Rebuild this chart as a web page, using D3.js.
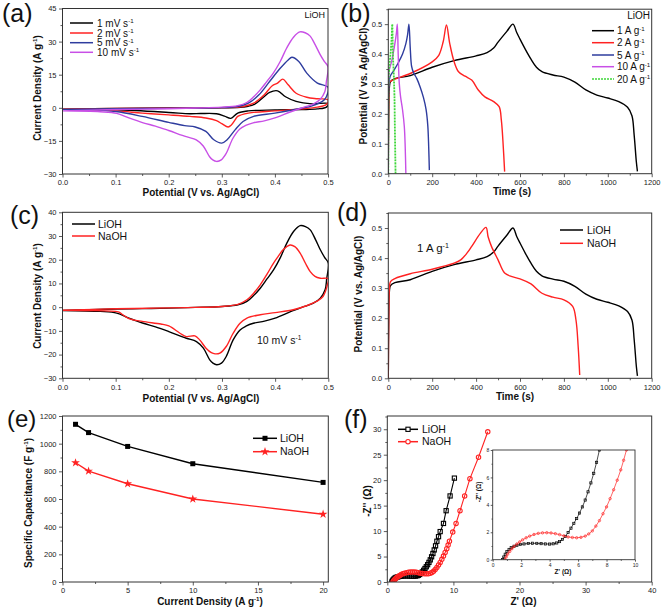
<!DOCTYPE html>
<html><head><meta charset="utf-8">
<script src="https://cdn.jsdelivr.net/npm/d3@7"></script>
<style>
body{margin:0;background:#fff;}
svg{display:block;font-family:"Liberation Sans",Arial,Helvetica,sans-serif;}
</style></head><body>
<svg id="chart" width="664" height="612"></svg>
<script>
// ================= DATA =================
// (a) CV of LiOH at several scan rates: [potential V, current A/g]
const cv1 = [[0,-0.6],[0.1,-0.3],[0.2,-0.1],[0.3,0],[0.34,0.3],[0.36,1.4],[0.38,5.1],[0.39,7],[0.405,7.7],[0.42,5],[0.44,2.9],[0.47,1.8],[0.5,1.9],[0.497,0.3],[0.48,-0.5],[0.45,-0.8],[0.4,-1.0],[0.35,-1.4],[0.33,-2.4],[0.317,-4.8],[0.305,-3.8],[0.29,-2.7],[0.26,-2.6],[0.24,-2.7],[0.2,-2.1],[0.1,-0.9],[0,-0.6]];
const cv2 = [[0,-0.6],[0.1,-0.3],[0.2,-0.1],[0.3,0.1],[0.34,0.6],[0.36,2.1],[0.38,5.9],[0.395,10],[0.405,11.2],[0.415,13],[0.425,10.4],[0.44,6.6],[0.46,4.8],[0.48,4.1],[0.5,3.6],[0.497,1.5],[0.48,0.3],[0.45,-0.5],[0.4,-1.4],[0.35,-2.4],[0.33,-3.9],[0.325,-5.5],[0.318,-7.8],[0.312,-8.7],[0.3,-7.2],[0.29,-5.8],[0.27,-4.6],[0.24,-3.9],[0.2,-3.2],[0.15,-2.4],[0.1,-1.4],[0,-0.6]];
const cv5 = [[0,-0.7],[0.1,-0.4],[0.2,-0.2],[0.3,0.1],[0.33,0.6],[0.35,2.1],[0.37,5.9],[0.39,11.9],[0.41,17.9],[0.425,21.7],[0.432,22.9],[0.445,21],[0.46,15.7],[0.48,11.2],[0.5,9.3],[0.497,5],[0.49,3.0],[0.47,0.9],[0.45,-0.2],[0.4,-2.4],[0.36,-3.9],[0.34,-6.2],[0.325,-10],[0.31,-14.5],[0.3,-16],[0.285,-14.5],[0.27,-10.7],[0.25,-8.7],[0.23,-8.1],[0.2,-6.6],[0.15,-3.9],[0.1,-1.7],[0.05,-0.9],[0,-0.7]];
const cvLiOH10 = [[0,-1.4],[0.05,-1.1],[0.1,-0.8],[0.15,-0.6],[0.2,-0.4],[0.25,-0.1],[0.3,0.3],[0.33,1.0],[0.347,2.4],[0.36,5],[0.372,8],[0.385,12],[0.397,15.7],[0.41,21],[0.422,27],[0.435,32],[0.447,34.4],[0.457,34],[0.466,32.6],[0.476,28.5],[0.485,24.2],[0.493,21],[0.5,18.6],[0.497,12],[0.494,7.3],[0.485,3.8],[0.472,1.7],[0.455,0.3],[0.43,-1.8],[0.4,-4.6],[0.38,-5.9],[0.359,-6.8],[0.345,-8],[0.334,-9.6],[0.321,-13.8],[0.308,-20.8],[0.299,-23.6],[0.29,-24.3],[0.283,-23.6],[0.277,-22.2],[0.265,-17.3],[0.252,-14.5],[0.233,-13.1],[0.2,-10.3],[0.175,-8.3],[0.152,-6.8],[0.125,-4.6],[0.102,-2.5],[0.071,-1.8],[0,-1.4]];
// (c) NaOH at 10 mV/s
const cvNaOH10 = [[0,-1.3],[0.1,-0.7],[0.2,-0.3],[0.25,-0.1],[0.3,0.3],[0.33,1.2],[0.347,3.1],[0.36,6],[0.372,9.4],[0.385,14],[0.397,18.6],[0.407,21.8],[0.415,24.2],[0.428,26.2],[0.437,25.5],[0.447,22.8],[0.457,18.5],[0.466,15],[0.475,13],[0.485,12.2],[0.5,12],[0.499,10],[0.49,4.5],[0.478,2.4],[0.459,0.6],[0.434,-1.1],[0.4,-2.3],[0.372,-3.2],[0.347,-4.6],[0.334,-6.8],[0.321,-11],[0.308,-16.6],[0.296,-19.4],[0.287,-19.7],[0.28,-19.2],[0.27,-17.3],[0.258,-13.8],[0.249,-12.1],[0.233,-12.4],[0.221,-11],[0.2,-7.9],[0.185,-7.1],[0.15,-6.0],[0.125,-4.8],[0.112,-3],[0.105,-2.0],[0.05,-1.4],[0,-1.3]];

// (b)/(d) galvanostatic charge-discharge: [time s, potential V]
const gcdLiOH1 = [[0,0],[2,0.2],[5,0.29],[10,0.308],[30,0.318],[100,0.328],[200,0.356],[300,0.378],[400,0.394],[450,0.405],[480,0.42],[500,0.44],[540,0.476],[568,0.5],[585,0.472],[600,0.45],[625,0.415],[650,0.383],[675,0.356],[700,0.341],[750,0.33],[800,0.323],[850,0.306],[900,0.28],[950,0.263],[1000,0.253],[1050,0.241],[1090,0.222],[1110,0.194],[1120,0.13],[1130,0.04],[1135,0.008]];
const gcd2 = [[0,0],[2,0.25],[5,0.305],[20,0.313],[100,0.335],[200,0.374],[230,0.396],[250,0.441],[265,0.497],[280,0.435],[300,0.374],[320,0.341],[350,0.326],[380,0.313],[410,0.28],[440,0.257],[480,0.241],[505,0.224],[515,0.179],[522,0.112],[530,0.007]];
const gcd5 = [[0,0],[2,0.29],[8,0.325],[25,0.345],[45,0.37],[65,0.4],[80,0.435],[88,0.465],[94,0.5],[100,0.42],[106,0.36],[115,0.338],[130,0.318],[145,0.29],[160,0.255],[172,0.215],[180,0.16],[184,0.09],[187,0.012]];
const gcd10 = [[0,0],[1,0.3],[4,0.346],[15,0.375],[30,0.435],[37,0.47],[41,0.5],[45,0.402],[50,0.302],[56,0.257],[65,0.213],[73,0.157],[77,0.09],[80,0]];
const gcd20 = [[0,0],[1,0.3],[4,0.35],[10,0.4],[15,0.45],[18,0.5],[21,0.4],[25,0.33],[28,0.26],[30,0.15],[32,0.05],[33,0]];
const gcdNaOH1 = [[0,0],[2,0.2],[5,0.3],[10,0.322],[30,0.332],[100,0.348],[200,0.363],[300,0.383],[330,0.394],[360,0.418],[380,0.439],[420,0.483],[445,0.502],[455,0.47],[470,0.439],[500,0.394],[530,0.35],[560,0.339],[600,0.331],[650,0.314],[700,0.283],[750,0.27],[800,0.261],[840,0.239],[855,0.194],[865,0.106],[872,0.011]];

// (e) rate capability
const rateCurrent = [1, 2, 5, 10, 20];
const capLiOH = [1140, 1080, 980, 855, 720];
const capNaOH = [862, 802, 710, 600, 490];

// (f) Nyquist: [Z' ohm, -Z'' ohm]
const eisLiOH = [[0.7,0],[0.78,0.2],[0.88,0.4],[1.0,0.58],[1.15,0.75],[1.3,0.88],[1.5,0.98],[1.7,1.05],[1.95,1.11],[2.2,1.15],[2.5,1.18],[2.8,1.2],[3.1,1.19],[3.4,1.17],[3.7,1.15],[4.0,1.14],[4.25,1.16],[4.5,1.22],[4.7,1.32],[4.9,1.48],[5.1,1.7],[5.3,1.98],[5.5,2.3],[5.7,2.65],[5.9,3.0],[6.1,3.4],[6.3,3.85],[6.5,4.35],[6.7,4.95],[6.9,5.6],[7.1,6.3],[7.3,7.1],[7.5,8.0],[7.75,8.9],[8.0,9.9],[8.5,11.5],[8.9,14.0],[9.5,16.9],[10.15,20.4]];
const eisNaOH = [[0.85,0],[0.95,0.2],[1.05,0.4],[1.2,0.6],[1.35,0.8],[1.5,0.97],[1.7,1.15],[1.9,1.3],[2.1,1.45],[2.35,1.6],[2.6,1.72],[2.9,1.84],[3.2,1.92],[3.5,1.96],[3.8,1.97],[4.1,1.95],[4.4,1.9],[4.7,1.83],[5.0,1.74],[5.3,1.66],[5.6,1.62],[5.9,1.6],[6.2,1.63],[6.5,1.72],[6.75,1.88],[7.0,2.1],[7.25,2.45],[7.5,2.85],[7.75,3.35],[8.0,3.85],[8.25,4.45],[8.5,5.1],[8.75,5.8],[9.0,6.55],[9.2,7.25],[9.4,8.0],[9.9,9.8],[10.4,11.5],[11.0,14.0],[11.7,16.9],[12.5,20.3],[13.8,24.5],[15.2,29.5]];

// tick values
const ticksPot = [0, 0.1, 0.2, 0.3, 0.4, 0.5];
const ticksCurA = [-30, -15, 0, 15, 30, 45];
const ticksCurC = [-30, -20, -10, 0, 10, 20, 30, 40];
const ticksTime = [0, 200, 400, 600, 800, 1000, 1200];
const ticksV = [0, 0.1, 0.2, 0.3, 0.4, 0.5];
const ticksRateX = [0, 5, 10, 15, 20];
const ticksCap = [0, 200, 400, 600, 800, 1000, 1200];
const ticksZx = [0, 10, 20, 30, 40];
const ticksZy = [0, 5, 10, 15, 20, 25, 30];
const ticksInsetX = [0, 2, 4, 6, 8, 10];
const ticksInsetY = [0, 2, 4, 6, 8];

// colours
const C = {k:"#000000", r:"#ff2222", b:"#2e3c9e", m:"#c84fe6", g:"#3fd63a"};

// ================= DRAWING =================
const svg = d3.select("#chart");
const defs = svg.append("defs");
let clipId = 0;

function panel(c){
  const x = d3.scaleLinear().domain(c.xd).range([c.L, c.R]);
  const y = d3.scaleLinear().domain(c.yd).range([c.B, c.T]);
  const g = svg.append("g");
  const fs = c.fs || 7.5;
  const ax = (gen, tr, vals, size, fmt) => {
    const a = g.append("g").attr("transform", tr)
      .call(gen.tickValues(vals).tickSize(size).tickPadding(c.pad || 2.5).tickFormat(fmt));
    a.select(".domain").remove();
    a.attr("font-family", null).attr("font-size", fs);
    a.selectAll("line").attr("stroke", "#333").attr("stroke-width", 0.8);
    a.selectAll("text").attr("fill", "#222");
    return a;
  };
  const maj = c.maj || 3.5, mn = c.mn || 2;
  ax(d3.axisBottom(x), `translate(0,${c.B})`, c.xMinor, mn, () => "");
  ax(d3.axisBottom(x), `translate(0,${c.B})`, c.xTicks, maj, c.xFmt);
  ax(d3.axisLeft(y), `translate(${c.L},0)`, c.yMinor, mn, () => "");
  ax(d3.axisLeft(y), `translate(${c.L},0)`, c.yTicks, maj, c.yFmt);
  if (c.bg) g.insert("rect", ":first-child").attr("x", c.L).attr("y", c.T).attr("width", c.R - c.L).attr("height", c.B - c.T).attr("fill", "#fff");
  const id = "clip" + (clipId++);
  defs.append("clipPath").attr("id", id).append("rect")
    .attr("x", c.L).attr("y", c.T).attr("width", c.R - c.L).attr("height", c.B - c.T);
  const plot = g.append("g").attr("clip-path", `url(#${id})`);
  g.append("rect").attr("x", c.L).attr("y", c.T).attr("width", c.R - c.L).attr("height", c.B - c.T)
    .attr("fill", "none").attr("stroke", "#333").attr("stroke-width", c.frameW || 1);
  return {g, plot, x, y};
}

function rich(sel, parts, size){
  let shift = 0;
  parts.forEach(([s, sup]) => {
    const t = sel.append("tspan").text(s);
    const target = sup ? -size * 0.38 : 0;
    if (target !== shift) { t.attr("dy", target - shift); shift = target; }
    if (sup) t.attr("font-size", size * 0.62);
  });
  return sel;
}

function label(x, y, parts, size, opts = {}){
  const t = svg.append("text").attr("x", x).attr("y", y).attr("font-size", size)
    .attr("fill", opts.fill || "#111");
  if (opts.bold) t.attr("font-weight", "bold");
  if (opts.anchor) t.attr("text-anchor", opts.anchor);
  rich(t, parts, size);
  return t;
}

function vlabel(xc, yc, parts, size){
  const t = svg.append("text").attr("transform", `translate(${xc},${yc}) rotate(-90)`)
    .attr("text-anchor", "middle").attr("dy", "0.35em").attr("font-size", size)
    .attr("font-weight", "bold").attr("fill", "#111");
  rich(t, parts, size);
  return t;
}

function curve(P, data, color, opts = {}){
  const line = d3.line().x(d => P.x(d[0])).y(d => P.y(d[1]))
    .curve(opts.linear ? d3.curveLinear : d3.curveCatmullRom.alpha(0.5));
  const p = P.plot.append("path").datum(data).attr("d", line).attr("fill", "none")
    .attr("stroke", color).attr("stroke-width", opts.w || 1.4).attr("stroke-linejoin", "round");
  if (opts.dash) p.attr("stroke-dasharray", opts.dash);
  return p;
}

function legendRows(x1, x2, tx, ys, items, size){
  items.forEach((it, i) => {
    const yy = ys[i];
    const l = svg.append("line").attr("x1", x1).attr("x2", x2).attr("y1", yy).attr("y2", yy)
      .attr("stroke", it.c).attr("stroke-width", 1.5);
    if (it.dash) l.attr("stroke-dasharray", it.dash);
    if (it.marker) it.marker((x1 + x2) / 2, yy);
    label(tx, yy + size * 0.36, it.t, size);
  });
}

const fmt1 = d3.format(".1f"), fmt0 = d3.format("d");

// ---------- (a) ----------
const A = panel({L:62.5, R:328, T:8.5, B:174, xd:[0,0.5], yd:[-30,45],
  xTicks:ticksPot, xMinor:d3.range(0.05,0.5,0.1), yTicks:ticksCurA, yMinor:d3.range(-22.5,45,15),
  xFmt:fmt1, yFmt:fmt0});
curve(A, cv1, C.k); curve(A, cv2, C.r); curve(A, cv5, C.b); curve(A, cvLiOH10, C.m);
legendRows(70, 93, 97, [23, 33, 42.7, 52.3], [
  {c:C.k, t:[["1 mV s"],["-1",1]]},
  {c:C.r, t:[["2 mV s"],["-1",1]]},
  {c:C.b, t:[["5 mV s"],["-1",1]]},
  {c:C.m, t:[["10 mV s"],["-1",1]]}], 10);
label(325, 18, [["LiOH"]], 9, {anchor:"end"});
label(201, 196, [["Potential (V vs. Ag/AgCl)"]], 10, {bold:1, anchor:"middle"});
vlabel(37, 88, [["Current Density (A g"],["-1",1],[")"]], 10);
label(2, 22, [["(a)"]], 25);

// ---------- (b) ----------
const B = panel({L:388.3, R:651.7, T:9.2, B:173.7, xd:[0,1200], yd:[0,0.55],
  xTicks:ticksTime, xMinor:d3.range(100,1200,200), yTicks:ticksV, yMinor:d3.range(0.05,0.56,0.1),
  xFmt:fmt0, yFmt:fmt1});
curve(B, gcdLiOH1, C.k); curve(B, gcd2, C.r); curve(B, gcd5, C.b); curve(B, gcd10, C.m);
curve(B, gcd20, C.g, {w:1.8, dash:"2,1"});
legendRows(592, 614, 617, [30.7, 42.7, 55, 66.7, 79], [
  {c:C.k, t:[["1 A g"],["-1",1]]},
  {c:C.r, t:[["2 A g"],["-1",1]]},
  {c:C.b, t:[["5 A g"],["-1",1]]},
  {c:C.m, t:[["10 A g"],["-1",1]]},
  {c:C.g, dash:"2,1", t:[["20 A g"],["-1",1]]}], 10);
label(650, 18.5, [["LiOH"]], 10, {anchor:"end"});
label(512, 195, [["Time (s)"]], 10, {bold:1, anchor:"middle"});
vlabel(363, 86, [["Potential (V vs. Ag/AgCl)"]], 10);
label(340, 22, [["(b)"]], 25);

// ---------- (c) ----------
const Cc = panel({L:62.5, R:328.3, T:212.3, B:378.3, xd:[0,0.5], yd:[-30,40],
  xTicks:ticksPot, xMinor:d3.range(0.05,0.5,0.1), yTicks:ticksCurC, yMinor:d3.range(-25,40,10),
  xFmt:fmt1, yFmt:fmt0});
curve(Cc, cvLiOH10, C.k); curve(Cc, cvNaOH10, C.r);
legendRows(72, 95, 98, [224, 236], [
  {c:C.k, t:[["LiOH"]]}, {c:C.r, t:[["NaOH"]]}], 10.5);
label(257, 344, [["10 mV s"],["-1",1]], 10.5);
label(201, 402, [["Potential (V vs. Ag/AgCl)"]], 10, {bold:1, anchor:"middle"});
vlabel(37, 296, [["Current Density (A g"],["-1",1],[")"]], 10);
label(10, 224, [["(c)"]], 25);

// ---------- (d) ----------
const D = panel({L:388.3, R:651.7, T:213, B:378.3, xd:[0,1200], yd:[0,0.55],
  xTicks:ticksTime, xMinor:d3.range(100,1200,200), yTicks:ticksV, yMinor:d3.range(0.05,0.56,0.1),
  xFmt:fmt0, yFmt:fmt1});
curve(D, gcdLiOH1, C.k); curve(D, gcdNaOH1, C.r);
legendRows(560, 583, 587, [230, 243.3], [
  {c:C.k, t:[["LiOH"]]}, {c:C.r, t:[["NaOH"]]}], 10.5);
label(417, 252, [["1 A g"],["-1",1]], 11.5);
label(515, 400, [["Time (s)"]], 10, {bold:1, anchor:"middle"});
vlabel(358.5, 294, [["Potential (V vs. Ag/AgCl)"]], 10);
label(337, 221, [["(d)"]], 25);

// ---------- (e) ----------
const E = panel({L:62.5, R:328.3, T:416, B:582, xd:[0,20.4], yd:[0,1200],
  xTicks:ticksRateX, xMinor:d3.range(2.5,20.4,5), yTicks:ticksCap, yMinor:d3.range(100,1200,200),
  xFmt:fmt0, yFmt:fmt0});
const liPts = rateCurrent.map((v,i)=>[v, capLiOH[i]]);
const naPts = rateCurrent.map((v,i)=>[v, capNaOH[i]]);
curve(E, liPts, C.k, {linear:1}); curve(E, naPts, C.r, {linear:1});
const sq = (g, x, y, s, col) => g.append("rect").attr("x", x - s/2).attr("y", y - s/2).attr("width", s).attr("height", s).attr("fill", col);
const star = (g, x, y, col) => g.append("path").attr("d", d3.symbol(d3.symbolStar, 24)()).attr("transform", `translate(${x},${y})`).attr("fill", col);
liPts.forEach(d => sq(E.g, E.x(d[0]), E.y(d[1]), 5, C.k));
naPts.forEach(d => star(E.g, E.x(d[0]), E.y(d[1]), C.r));
legendRows(253, 277, 280, [438.3, 451.7], [
  {c:C.k, t:[["LiOH"]], marker:(x,y)=>sq(svg, x, y, 5, C.k)},
  {c:C.r, t:[["NaOH"]], marker:(x,y)=>star(svg, x, y, C.r)}], 10.5);
label(210, 605, [["Current Density (A g"],["-1",1],[")"]], 10, {bold:1, anchor:"middle"});
vlabel(28.5, 503, [["Specific Capacitance (F g"],["-1",1],[")"]], 10);
label(7, 427, [["(e)"]], 24);

// ---------- (f) ----------
const F = panel({L:387.3, R:651.7, T:416, B:582, xd:[0,40], yd:[0,32.6],
  xTicks:ticksZx, xMinor:d3.range(5,40,10), yTicks:ticksZy, yMinor:d3.range(2.5,32.6,5),
  xFmt:fmt0, yFmt:fmt0});
function eis(P, data, color, kind, size, w){
  curve(P, data, color, {linear:1, w:w});
  data.forEach(d => {
    const x = P.x(d[0]), y = P.y(d[1]);
    if (kind === "sq") P.plot.append("rect").attr("x", x - size/2).attr("y", y - size/2).attr("width", size).attr("height", size)
      .attr("fill", "none").attr("stroke", color).attr("stroke-width", w);
    else P.plot.append("circle").attr("cx", x).attr("cy", y).attr("r", size/2)
      .attr("fill", "none").attr("stroke", color).attr("stroke-width", w);
  });
}
eis(F, eisLiOH, C.k, "sq", 4.2, 1.1);
eis(F, eisNaOH, C.r, "ci", 4.4, 1.1);
legendRows(398, 418, 422, [429.3, 441.7], [
  {c:C.k, t:[["LiOH"]], marker:(x,y)=>svg.append("rect").attr("x",x-2.1).attr("y",y-2.1).attr("width",4.2).attr("height",4.2).attr("fill","#fff").attr("stroke",C.k).attr("stroke-width",1.1)},
  {c:C.r, t:[["NaOH"]], marker:(x,y)=>svg.append("circle").attr("cx",x).attr("cy",y).attr("r",2.2).attr("fill","#fff").attr("stroke",C.r).attr("stroke-width",1.1)}], 10.5);
label(523.5, 605, [["Z' (Ω)"]], 10, {bold:1, anchor:"middle"});
vlabel(367, 501, [["-Z'' (Ω)"]], 10);
label(344, 428, [["(f)"]], 25);

// inset
const I = panel({L:492.7, R:635, T:450, B:559.7, xd:[0,10], yd:[0,8], bg:1,
  xTicks:ticksInsetX, xMinor:d3.range(1,10,2), yTicks:ticksInsetY, yMinor:d3.range(1,8,2),
  xFmt:fmt0, yFmt:fmt0, fs:5, maj:2, mn:1.2, pad:1.5, frameW:0.9});
eis(I, eisLiOH, C.k, "sq", 2.2, 0.7);
eis(I, eisNaOH, C.r, "ci", 2.4, 0.7);
label(563, 574, [["Z' (Ω)"]], 6.5, {bold:1, anchor:"middle"});
svg.append("text").attr("transform", "translate(479,492) rotate(-90)").attr("text-anchor","middle")
  .attr("dy","0.35em").attr("font-size",6.5).attr("font-weight","bold").attr("fill","#111").text("-Z'' (Ω)");
</script></body></html>
